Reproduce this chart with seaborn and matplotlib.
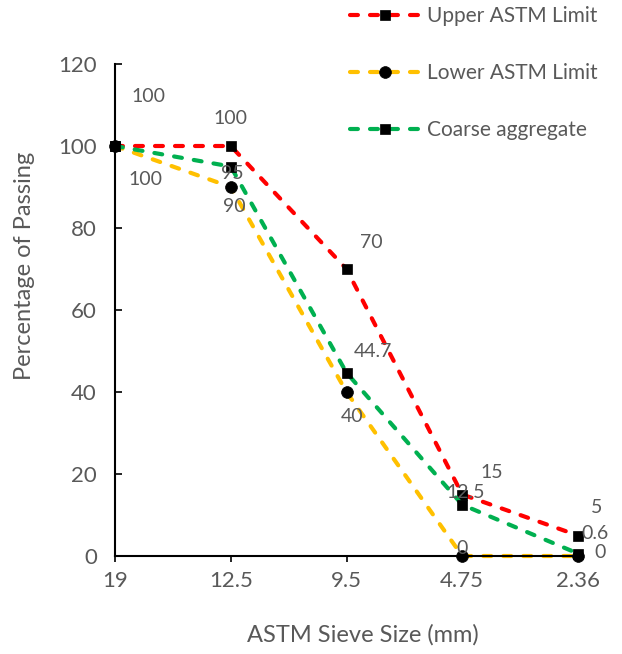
import matplotlib
matplotlib.use('Agg')
import matplotlib.pyplot as plt
import seaborn as sns
import pandas as pd

sieve = ['19', '12.5', '9.5', '4.75', '2.36']
upper = [100, 100, 70, 15, 5]
lower = [100, 90, 40, 0, 0]
coarse = [100, 95, 44.7, 12.5, 0.6]
series_names = ['Upper ASTM Limit', 'Lower ASTM Limit', 'Coarse aggregate']
yticks = [0, 20, 40, 60, 80, 100, 120]

# label offsets (pixels, y up) for the visible data labels; None = hidden
upper_off = [(33, 49), (0, 28), (25, 26), (30, 22), (19, 28)]
lower_off = [(30, -33), (4, -19), (6, -25), (0, 7), (22, 4)]
coarse_off = [None, (2, -7), (26, 21), (3, 12), (17, 20)]

sns.set_theme(style='white')
plt.rcParams['font.family'] = ['Lato', 'DejaVu Sans']
grey = '#595959'

fig = plt.figure(figsize=(6.22, 6.54), dpi=100)
ax = fig.add_axes([115 / 622, 1 - 556 / 654, 463 / 622, 492 / 654])

styles = [
    dict(color='#FF0000', marker='s', ms=7.5),
    dict(color='#FFC000', marker='o', ms=8.5),
    dict(color='#00B050', marker='s', ms=7.5),
]
datas = [upper, lower, coarse]
for name, vals, st in zip(series_names, datas, styles):
    df = pd.DataFrame({'sieve': sieve, 'value': vals})
    sns.lineplot(data=df, x='sieve', y='value', sort=False, ax=ax,
                 color=st['color'], marker=st['marker'], markersize=st['ms'],
                 markerfacecolor='black', markeredgecolor='black',
                 markeredgewidth=0.5, linewidth=3,
                 linestyle=(0, (1.9, 2.9)), dash_capstyle='round',
                 label=name, clip_on=False, legend=False)

for vals, offs in zip(datas, [upper_off, lower_off, coarse_off]):
    for i, (v, o) in enumerate(zip(vals, offs)):
        if o is None:
            continue
        ax.annotate(f'{v:g}', (i, v), xytext=(o[0] * 0.72, o[1] * 0.72),
                    textcoords='offset points', ha='center', va='center',
                    fontsize=14, color=grey, annotation_clip=False)

ax.set_xlim(0, 4)
ax.set_ylim(0, 120)
ax.set_yticks(yticks)
ax.set_xticks(range(len(sieve)))
ax.set_xticklabels(sieve)
for s in ['top', 'right']:
    ax.spines[s].set_visible(False)
for s in ['left', 'bottom']:
    ax.spines[s].set_color('black')
    ax.spines[s].set_linewidth(1.5)
ax.tick_params(axis='y', direction='in', length=5, width=1.2, color='black',
               pad=13, labelsize=16, labelcolor=grey, left=True)
ax.tick_params(axis='x', direction='out', length=4, width=1.2, color='black',
               pad=7, labelsize=16, labelcolor=grey, bottom=True)

ax.set_xlabel('ASTM Sieve Size (mm)', fontsize=17, color=grey)
ax.set_ylabel('Percentage of Passing', fontsize=17, color=grey)
ax.xaxis.set_label_coords(0.536, -0.138)
ax.yaxis.set_label_coords(-0.173, 0.589)

handles, labels = ax.get_legend_handles_labels()
fig.legend(handles, labels, loc='upper left',
           bbox_to_anchor=(350 / 622, 1 - 6 / 654), frameon=False,
           fontsize=15, labelcolor=grey, handlelength=3.4, handletextpad=0.3,
           labelspacing=1.78, borderpad=0, borderaxespad=0)

fig.savefig('out.png', dpi=100)
